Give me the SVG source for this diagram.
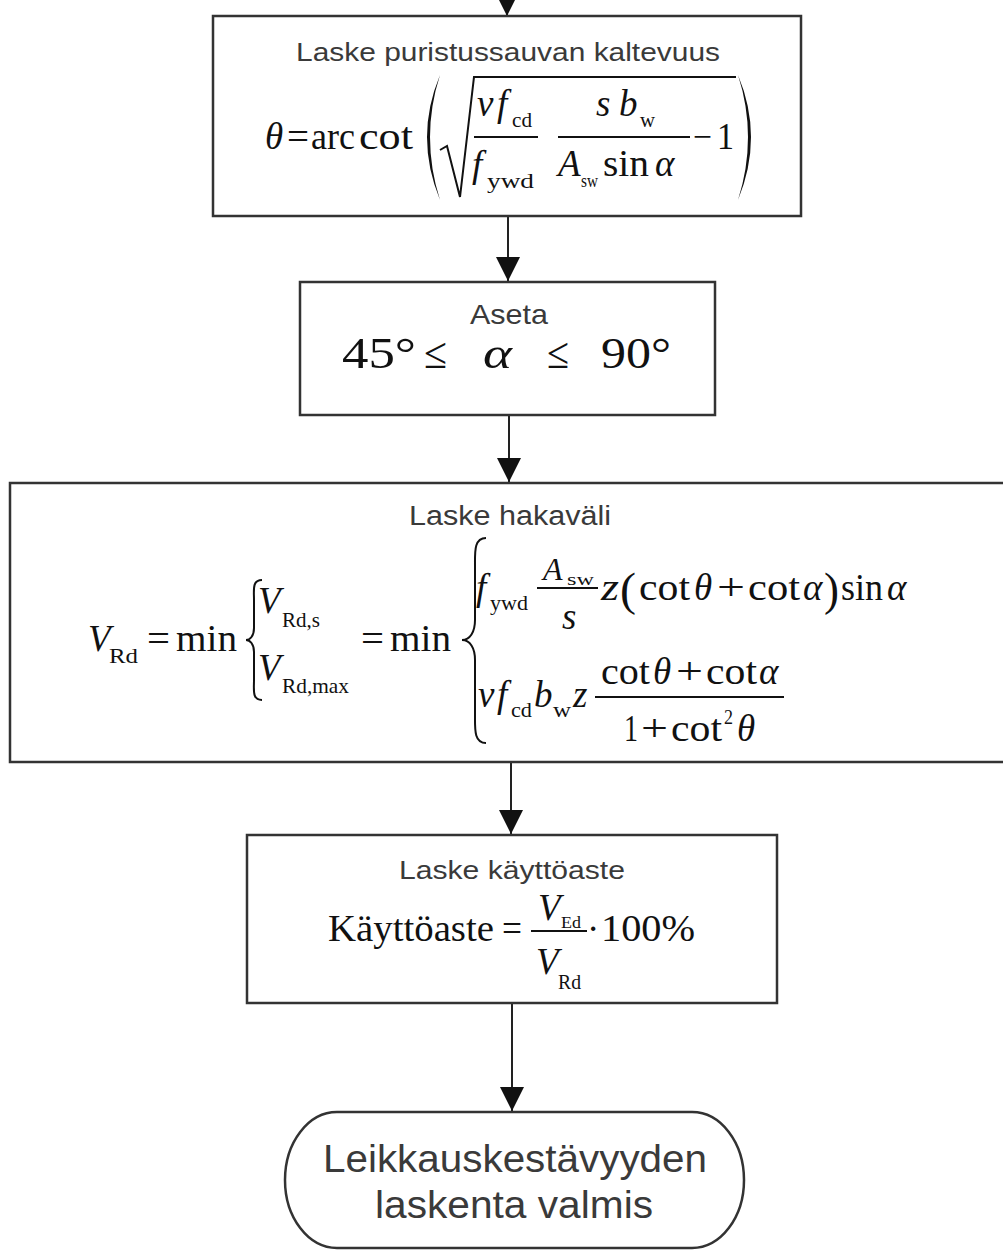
<svg xmlns="http://www.w3.org/2000/svg" width="1003" height="1252" viewBox="0 0 1003 1252">
<style>
.box{fill:#fff;stroke:#333;stroke-width:2.5}
.t{font-family:"Liberation Sans",Arial,sans-serif;fill:#3a3a3a}
.m{font-family:"Liberation Serif","Times New Roman",serif;fill:#111}
.i{font-style:italic}
.ln{stroke:#111;stroke-width:2;fill:none}
.fl{fill:#111;stroke:none}
.conn{stroke:#222;stroke-width:2;fill:none;marker-end:url(#arr)}
</style>
<defs>
<marker id="arr" viewBox="0 0 24 24" refX="24" refY="12" markerWidth="24" markerHeight="24" markerUnits="userSpaceOnUse" orient="auto">
<path d="M0,0 L24,12 L0,24 z" fill="#111"/>
</marker>
</defs>
<rect width="1003" height="1252" fill="#fff"/>

<g id="connectors">
<path class="conn" d="M507,-10 L507,16"/>
<path class="conn" d="M508,216 L508,281"/>
<path class="conn" d="M509,415 L509,482"/>
<path class="conn" d="M511,762 L511,834"/>
<path class="conn" d="M512,1003 L512,1111"/>
</g>

<g id="node-kaltevuus">
<rect class="box" x="213" y="16" width="588" height="200"/>
<text class="t" x="296" y="61" font-size="26" textLength="424" lengthAdjust="spacingAndGlyphs">Laske puristussauvan kaltevuus</text>
<g class="m" font-size="37">
<text class="i" x="265" y="149">θ</text>
<text x="287" y="149" textLength="22" lengthAdjust="spacingAndGlyphs">=</text>
<text x="311" y="149" textLength="44" lengthAdjust="spacingAndGlyphs">arc</text>
<text x="359" y="149" textLength="54" lengthAdjust="spacingAndGlyphs">cot</text>
<text class="i" x="477" y="116">ν</text>
<text class="i" x="497" y="116">f</text>
<text x="512" y="127" font-size="20" textLength="20" lengthAdjust="spacingAndGlyphs">cd</text>
<text class="i" x="472" y="177">f</text>
<text x="487" y="188" font-size="20" textLength="47" lengthAdjust="spacingAndGlyphs">ywd</text>
<text class="i" x="596" y="116">s</text>
<text class="i" x="619" y="116">b</text>
<text x="640" y="127" font-size="20" textLength="15" lengthAdjust="spacingAndGlyphs">w</text>
<text class="i" x="558" y="176">A</text>
<text x="581" y="187" font-size="19" textLength="17" lengthAdjust="spacingAndGlyphs">sw</text>
<text x="603" y="176" textLength="46" lengthAdjust="spacingAndGlyphs">sin</text>
<text class="i" x="655" y="176">α</text>
<text x="693" y="149" textLength="19" lengthAdjust="spacingAndGlyphs">−</text>
<text x="717" y="149" textLength="17" lengthAdjust="spacingAndGlyphs">1</text>
</g>
<path class="fl" d="M440,75 Q414,137 440,200 Q420,137 440,75 z"/>
<path class="fl" d="M738,75 Q764,137 738,200 Q758,137 738,75 z"/>
<path class="ln" d="M440,150 L447,146 L460,197 L474,77 L736,77"/>
<path class="ln" d="M474,137 L538,137 M558,137 L690,137"/>
</g>

<g id="node-aseta">
<rect class="box" x="300" y="282" width="415" height="133"/>
<text class="t" x="470" y="324" font-size="28" textLength="78" lengthAdjust="spacingAndGlyphs">Aseta</text>
<g class="m" font-size="44">
<text x="342" y="368" textLength="74" lengthAdjust="spacingAndGlyphs">45°</text>
<text x="424" y="368" textLength="23" lengthAdjust="spacingAndGlyphs">≤</text>
<text class="i" x="483" y="368" textLength="29" lengthAdjust="spacingAndGlyphs">α</text>
<text x="547" y="368" textLength="22" lengthAdjust="spacingAndGlyphs">≤</text>
<text x="601" y="368" textLength="70" lengthAdjust="spacingAndGlyphs">90°</text>
</g>
</g>

<g id="node-hakavali">
<rect class="box" x="10" y="483" width="1003" height="279"/>
<text class="t" x="409" y="525" font-size="27" textLength="202" lengthAdjust="spacingAndGlyphs">Laske hakaväli</text>
<g class="m" font-size="37">
<text class="i" x="88" y="651">V</text>
<text x="109" y="663" font-size="21" textLength="29" lengthAdjust="spacingAndGlyphs">Rd</text>
<text x="147" y="651" textLength="23" lengthAdjust="spacingAndGlyphs">=</text>
<text x="176" y="651" textLength="61" lengthAdjust="spacingAndGlyphs">min</text>
<text class="i" x="258" y="613">V</text>
<text x="282" y="627" font-size="21" textLength="38" lengthAdjust="spacingAndGlyphs">Rd,s</text>
<text class="i" x="258" y="680">V</text>
<text x="282" y="693" font-size="21" textLength="67" lengthAdjust="spacingAndGlyphs">Rd,max</text>
<text x="361" y="651" textLength="23" lengthAdjust="spacingAndGlyphs">=</text>
<text x="390" y="651" textLength="61" lengthAdjust="spacingAndGlyphs">min</text>
<text class="i" x="476" y="600">f</text>
<text x="490" y="610" font-size="21" textLength="38" lengthAdjust="spacingAndGlyphs">ywd</text>
<text class="i" x="543" y="580" font-size="32">A</text>
<text x="567" y="585" font-size="17" textLength="27" lengthAdjust="spacingAndGlyphs">sw</text>
<text class="i" x="562" y="629">s</text>
<text class="i" x="601" y="600" textLength="18" lengthAdjust="spacingAndGlyphs">z</text>
<text x="620" y="605" font-size="46" textLength="16" lengthAdjust="spacingAndGlyphs">(</text>
<text x="639" y="600" textLength="51" lengthAdjust="spacingAndGlyphs">cot</text>
<text class="i" x="694" y="600">θ</text>
<text x="717" y="600" textLength="28" lengthAdjust="spacingAndGlyphs">+</text>
<text x="748" y="600" textLength="52" lengthAdjust="spacingAndGlyphs">cot</text>
<text class="i" x="803" y="600">α</text>
<text x="824" y="605" font-size="46" textLength="15" lengthAdjust="spacingAndGlyphs">)</text>
<text x="841" y="600" textLength="42" lengthAdjust="spacingAndGlyphs">sin</text>
<text class="i" x="887" y="600">α</text>
<text class="i" x="478" y="707">ν</text>
<text class="i" x="497" y="707">f</text>
<text x="511" y="717" font-size="21" textLength="21" lengthAdjust="spacingAndGlyphs">cd</text>
<text class="i" x="534" y="707">b</text>
<text x="553" y="717" font-size="21" textLength="18" lengthAdjust="spacingAndGlyphs">w</text>
<text class="i" x="573" y="707">z</text>
<text x="601" y="684" textLength="49" lengthAdjust="spacingAndGlyphs">cot</text>
<text class="i" x="653" y="684">θ</text>
<text x="676" y="684" textLength="27" lengthAdjust="spacingAndGlyphs">+</text>
<text x="706" y="684" textLength="51" lengthAdjust="spacingAndGlyphs">cot</text>
<text class="i" x="759" y="684">α</text>
<text x="624" y="741" textLength="14" lengthAdjust="spacingAndGlyphs">1</text>
<text x="641" y="741" textLength="27" lengthAdjust="spacingAndGlyphs">+</text>
<text x="671" y="741" textLength="51" lengthAdjust="spacingAndGlyphs">cot</text>
<text x="724" y="724" font-size="20" textLength="9" lengthAdjust="spacingAndGlyphs">2</text>
<text class="i" x="737" y="741">θ</text>
</g>
<path class="ln" d="M537,588 L598,588 M595,697 L784,697"/>
<path class="ln" d="M262,580 C252,580 254,590 254,600 L254,628 C254,636 250,640 246,640 C250,640 254,644 254,652 L254,680 C254,690 252,700 262,700"/>
<path class="ln" d="M486,538 C474,538 475,552 475,565 L475,620 C475,632 470,640 462,640 C470,640 475,648 475,660 L475,716 C475,729 474,743 486,743"/>
</g>

<g id="node-kayttoaste">
<rect class="box" x="247" y="835" width="530" height="168"/>
<text class="t" x="399" y="879" font-size="26" textLength="226" lengthAdjust="spacingAndGlyphs">Laske käyttöaste</text>
<g class="m" font-size="37">
<text x="328" y="941" textLength="166" lengthAdjust="spacingAndGlyphs">Käyttöaste</text>
<text x="502" y="941" textLength="20" lengthAdjust="spacingAndGlyphs">=</text>
<text class="i" x="538" y="920">V</text>
<text x="561" y="928" font-size="17" textLength="20" lengthAdjust="spacingAndGlyphs">Ed</text>
<text class="i" x="536" y="974">V</text>
<text x="558" y="989" font-size="21" textLength="23" lengthAdjust="spacingAndGlyphs">Rd</text>
<text x="587" y="941">·</text>
<text x="601" y="941" textLength="94" lengthAdjust="spacingAndGlyphs">100%</text>
</g>
<path class="ln" d="M531,931 L587,931"/>
</g>

<g id="node-valmis">
<rect class="box" x="285" y="1112" width="459" height="136" rx="52" ry="68"/>
<text class="t" x="323" y="1172" font-size="38" textLength="384" lengthAdjust="spacingAndGlyphs">Leikkauskestävyyden</text>
<text class="t" x="375" y="1218" font-size="38" textLength="278" lengthAdjust="spacingAndGlyphs">laskenta valmis</text>
</g>
</svg>
